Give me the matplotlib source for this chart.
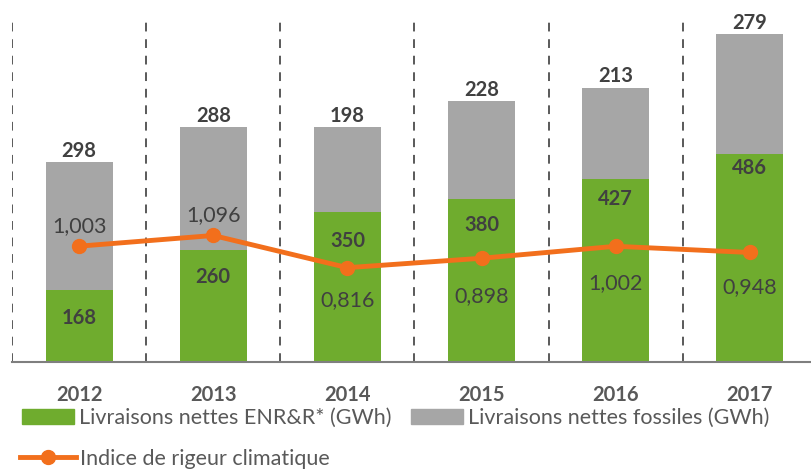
import matplotlib
matplotlib.use("Agg")
import matplotlib.pyplot as plt
from matplotlib.lines import Line2D
from matplotlib.patches import Patch

# ── Données ───────────────────────────────────────────────────────────────────
annees = ["2012", "2013", "2014", "2015", "2016", "2017"]
enr = [168, 260, 350, 380, 427, 486]
fossiles = [298, 288, 198, 228, 213, 279]
rigueur = [1.003, 1.096, 0.816, 0.898, 1.002, 0.948]
rigueur_txt = ["1,003", "1,096", "0,816", "0,898", "1,002", "0,948"]

# décalages verticaux des étiquettes (en pixels) – réglés à la main
enr_label_dy = [-28, -27, -29, -26, -20, -14]
rig_label_dy = [20, 20, -32, -38, -37, -35]

VERT = "#6FAC2E"
GRIS = "#A6A6A6"
ORANGE = "#F26F1C"
TEXTE = "#404040"
TEXTE2 = "#595959"

plt.rcParams["font.family"] = ["Lato", "DejaVu Sans"]

fig = plt.figure(figsize=(8.11, 4.72), dpi=100)
W, H = 811, 472
ax = fig.add_axes([12 / W, (H - 361.5) / H, 805 / W, 341.5 / H])
x = list(range(len(annees)))

ax.bar(x, enr, width=0.5, color=VERT, zorder=2)
ax.bar(x, fossiles, width=0.5, bottom=enr, color=GRIS, zorder=2)
ax.set_xlim(-0.5, 5.5)
ax.set_ylim(0, 798)

# séparateurs pointillés
for b in [i - 0.5 for i in range(len(annees) + 1)]:
    ax.axvline(b, color=TEXTE2, linestyle=(0, (4.5, 4)), linewidth=1.4, zorder=1)

for s in ["top", "right", "left"]:
    ax.spines[s].set_visible(False)
ax.spines["bottom"].set_color("#7F7F7F")
ax.spines["bottom"].set_linewidth(1.5)
ax.set_yticks([])
ax.set_xticks(x)
ax.set_xticklabels(annees, fontsize=14.5, fontweight="bold", color=TEXTE2)
ax.tick_params(axis="x", length=0, pad=17)

px = 72 / 100
for i in x:
    tot = enr[i] + fossiles[i]
    ax.annotate(str(fossiles[i]), (i, tot), xytext=(0, 1), textcoords="offset points",
                ha="center", va="bottom", fontsize=14.5, fontweight="bold", color=TEXTE)
    ax.annotate(str(enr[i]), (i, enr[i]), xytext=(0, enr_label_dy[i] * px),
                textcoords="offset points", ha="center", va="center",
                fontsize=14.5, fontweight="bold", color=TEXTE)

# indice de rigueur (axe secondaire)
ax2 = ax.twinx()
ax2.set_ylim(0, 2.97)
ax2.set_yticks([])
for s in ["top", "right", "left", "bottom"]:
    ax2.spines[s].set_visible(False)
ax2.plot(x, rigueur, color=ORANGE, linewidth=3.5, marker="o", markersize=10, zorder=3)
for i in x:
    ax2.annotate(rigueur_txt[i], (i, rigueur[i]), xytext=(0, rig_label_dy[i] * px),
                 textcoords="offset points", ha="center", va="center",
                 fontsize=15.5, color=TEXTE)

# légende
h1 = [Patch(color=VERT, label="Livraisons nettes ENR&R* (GWh)"),
      Patch(color=GRIS, label="Livraisons nettes fossiles (GWh)")]
fig.legend(handles=h1, ncol=2, loc="center left", bbox_to_anchor=(22 / W, 1 - 418 / H),
           frameon=False, fontsize=15.5, handlelength=2.4, handleheight=0.65,
           handletextpad=0.25, columnspacing=0.9, labelcolor=TEXTE2, borderpad=0,
           borderaxespad=0)
h2 = [Line2D([], [], color=ORANGE, linewidth=3.5, marker="o", markersize=10,
             label="Indice de rigeur climatique")]
fig.legend(handles=h2, loc="center left", bbox_to_anchor=(20 / W, 1 - 459 / H),
           frameon=False, fontsize=15.5, handlelength=2.6, handletextpad=0.2,
           labelcolor=TEXTE2, borderpad=0, borderaxespad=0)

fig.savefig("out.png", dpi=100)
